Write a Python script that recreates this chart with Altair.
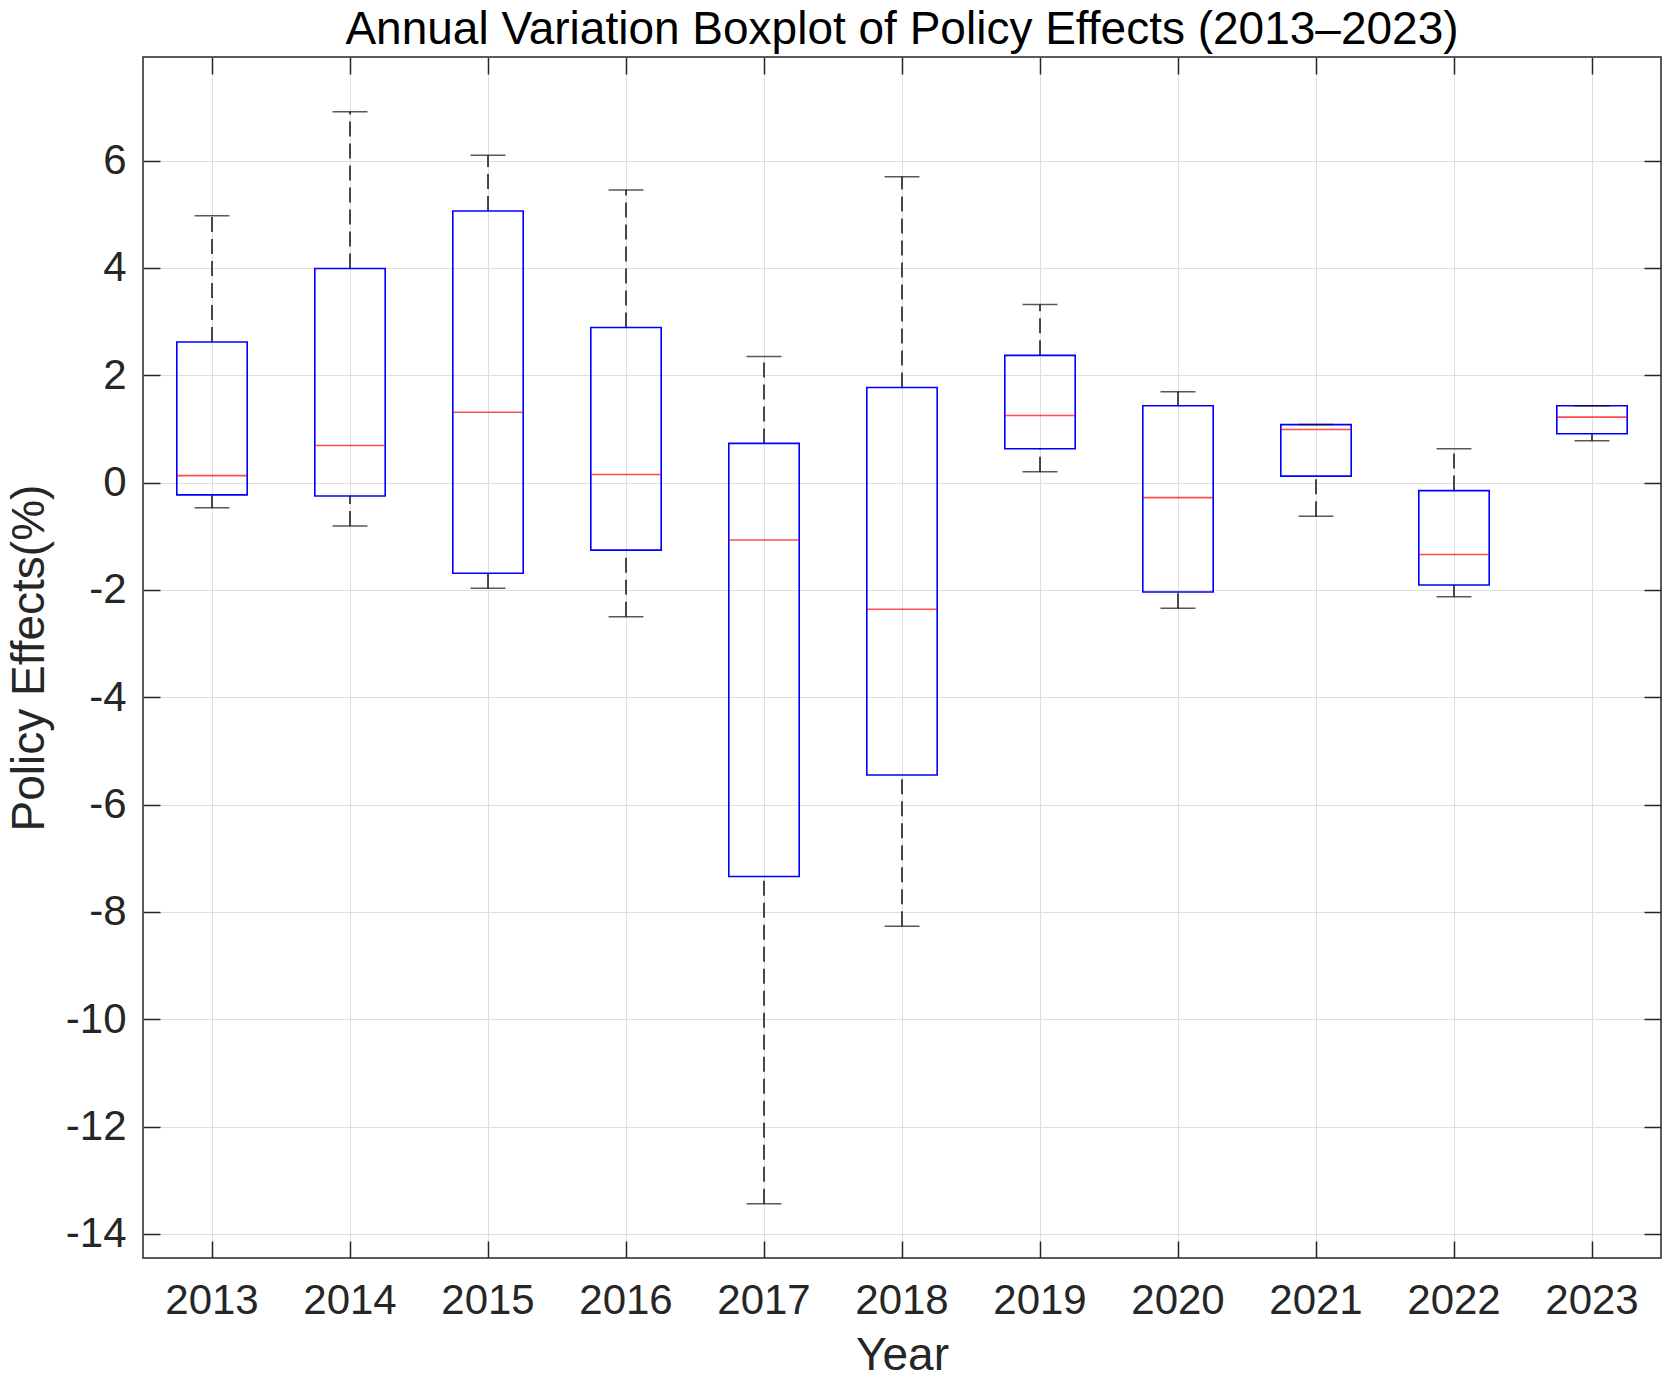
import altair as alt
import pandas as pd

# values
years = ['2013', '2014', '2015', '2016', '2017', '2018', '2019', '2020', '2021', '2022', '2023']
lower = [-0.47, -0.81, -1.97, -2.50, -13.44, -8.27, 0.20, -2.34, -0.63, -2.13, 0.78]
q1 = [-0.23, -0.25, -1.69, -1.26, -7.34, -5.45, 0.63, -2.04, 0.12, -1.91, 0.91]
median = [0.13, 0.69, 1.31, 0.15, -1.07, -2.36, 1.25, -0.28, 0.99, -1.34, 1.22]
q3 = [2.62, 3.99, 5.06, 2.89, 0.73, 1.77, 2.37, 1.43, 1.08, -0.15, 1.43]
upper = [4.97, 6.91, 6.10, 5.45, 2.35, 5.70, 3.32, 1.69, 1.08, 0.63, 1.43]

y_ticks = [-14, -12, -10, -8, -6, -4, -2, 0, 2, 4, 6]

df = pd.DataFrame({'Year': years, 'lower': lower, 'q1': q1, 'median': median,
                   'q3': q3, 'upper': upper})

FONT = 'Liberation Sans'
INK = '#262626'
GRID = '#dedede'

x_scale = alt.Scale(paddingInner=0.49, paddingOuter=0.245)
y_scale = alt.Scale(domain=[-14.45, 7.93], nice=False, zero=False)

# MATLAB-style inward ticks: pull each axis into the plot by the tick length
bottom_axis = alt.Axis(orient='bottom', offset=-17, tickSize=17, tickWidth=1.5, tickColor=INK,
                       domain=False, labelAngle=0, labelFont=FONT, labelFontSize=42,
                       labelColor=INK, labelPadding=22, grid=True, gridColor=GRID, gridWidth=1,
                       title='Year', titleFont=FONT, titleFontSize=46, titleFontWeight='normal',
                       titleColor=INK, titlePadding=12)
left_axis = alt.Axis(orient='left', offset=-17, tickSize=17, tickWidth=1.5, tickColor=INK,
                     domain=False, values=y_ticks, labelExpr="'' + datum.value",
                     labelFont=FONT, labelFontSize=42, labelColor=INK, labelPadding=17,
                     grid=True, gridColor=GRID, gridWidth=1,
                     title='Policy Effects(%)', titleFont=FONT, titleFontSize=46,
                     titleFontWeight='normal', titleColor=INK, titlePadding=12)
top_axis = alt.Axis(orient='top', offset=-17, tickSize=17, tickWidth=1.5, tickColor=INK,
                    domain=False, labels=False, grid=False, title=None)
right_axis = alt.Axis(orient='right', offset=-17, tickSize=17, tickWidth=1.5, tickColor=INK,
                      domain=False, labels=False, grid=False, values=y_ticks, title=None)

base = alt.Chart(df)

whisk_hi = base.mark_rule(color='#111111', strokeWidth=1.5, strokeDash=[15, 7]).encode(
    x=alt.X('Year:N', scale=x_scale, axis=None),
    y=alt.Y('q3:Q', scale=y_scale, axis=None),
    y2='upper:Q'
)
whisk_lo = base.mark_rule(color='#111111', strokeWidth=1.5, strokeDash=[15, 7]).encode(
    x=alt.X('Year:N', scale=x_scale, axis=None),
    y=alt.Y('lower:Q', scale=y_scale, axis=None),
    y2='q1:Q'
)
box = base.mark_bar(filled=False, color='#0000ff', strokeWidth=1.6).encode(
    x=alt.X('Year:N', scale=x_scale, axis=bottom_axis),
    y=alt.Y('q1:Q', scale=y_scale, axis=left_axis),
    y2='q3:Q'
)
cap_hi = base.mark_tick(color='#111111', size=35, thickness=1.5).encode(
    x=alt.X('Year:N', scale=x_scale, axis=None),
    y=alt.Y('upper:Q', scale=y_scale, axis=None)
)
cap_lo = base.mark_tick(color='#111111', size=35, thickness=1.5).encode(
    x=alt.X('Year:N', scale=x_scale, axis=None),
    y=alt.Y('lower:Q', scale=y_scale, axis=None)
)
med = base.mark_tick(color='#ff0000', size=70, thickness=1.6).encode(
    x=alt.X('Year:N', scale=x_scale, axis=top_axis),
    y=alt.Y('median:Q', scale=y_scale, axis=right_axis)
)

chart = alt.layer(whisk_hi, whisk_lo, box, cap_hi, cap_lo, med).resolve_axis(
    x='independent', y='independent'
).properties(
    width=1518,
    height=1201,
    autosize=alt.AutoSizeParams(type='none'),
    padding={'left': 135, 'top': 49, 'right': 3, 'bottom': 115},
    title=alt.TitleParams(
        text='Annual Variation Boxplot of Policy Effects (2013–2023)',
        font=FONT, fontSize=46, fontWeight='normal', color='black',
        anchor='middle', frame='group', offset=2
    )
).configure_view(
    stroke=INK,
    strokeWidth=1.5
)

chart.save("out.html", embed_options={"renderer": "svg", "actions": False})
